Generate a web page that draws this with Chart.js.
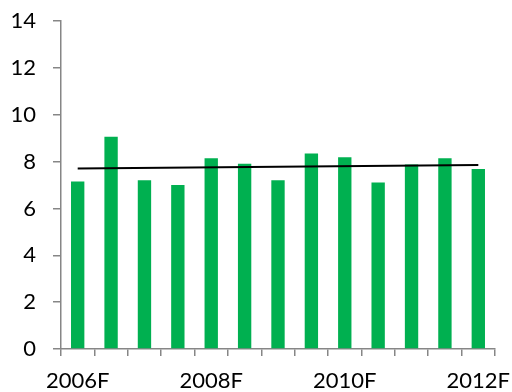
<!DOCTYPE html>
<html>
<head>
<meta charset="utf-8">
<script src="https://cdn.jsdelivr.net/npm/chart.js@4/dist/chart.umd.min.js"></script>
<style>
  html, body { margin: 0; padding: 0; background: #fff; }
  #wrap { width: 512px; height: 392px; }
</style>
</head>
<body>
<div id="wrap"><canvas id="myChart" width="512" height="392"></canvas></div>
<script>
// half-year periods, labelled every second year
let categories = ['2006F', '2006.5F', '2007F', '2007.5F', '2008F', '2008.5F', '2009F',
                  '2009.5F', '2010F', '2010.5F', '2011F', '2011.5F', '2012F'];
let values = [7.15, 9.06, 7.2, 7.0, 8.14, 7.91, 7.2, 8.34, 8.18, 7.11, 7.87, 8.14, 7.68];
// linear trend, start and end points only
let trend = [7.70, null, null, null, null, null, null, null, null, null, null, null, 7.85];
let yTicks = [0, 2, 4, 6, 8, 10, 12, 14];

var axisGrey = '#868686';
var font = { family: 'Lato, "Open Sans", sans-serif', size: 22 };

var ctx = document.getElementById('myChart').getContext('2d');
var chart = new Chart(ctx, {
    type: 'bar',
    data: {
        labels: categories,
        datasets: [{
            type: 'line',
            data: trend,
            borderColor: '#000000',
            borderWidth: 2,
            pointRadius: 0,
            spanGaps: true,
            fill: false,
            order: 0
        }, {
            data: values,
            backgroundColor: '#00B050',
            borderWidth: 0,
            barPercentage: 0.4,
            categoryPercentage: 1.0,
            order: 1
        }]
    },
    options: {
        responsive: false,
        animation: false,
        layout: { padding: { top: 21, right: 17, left: 0, bottom: 0 } },
        plugins: { legend: { display: false }, tooltip: { enabled: false } },
        scales: {
            x: {
                grid: { offset: true, drawOnChartArea: false, drawTicks: true, tickLength: 7, color: axisGrey, lineWidth: 1.5 },
                border: { color: axisGrey, width: 1.5 },
                ticks: {
                    autoSkip: false,
                    maxRotation: 0,
                    padding: 12,
                    color: '#000',
                    font: font,
                    callback: function(v, i) { return i % 4 === 0 ? categories[i] : ''; }
                },
                afterFit: function(s) {
                    s.height = 43;
                    s.paddingLeft = 0;
                    s.paddingRight = 0;
                }
            },
            y: {
                min: 0,
                max: 14,
                afterBuildTicks: function(s) { s.ticks = yTicks.map(function(v) { return { value: v }; }); },
                grid: { drawOnChartArea: false, drawTicks: true, tickLength: 8, color: axisGrey, lineWidth: 1.5 },
                border: { color: axisGrey, width: 1.5 },
                ticks: { padding: 17, color: '#000', font: font },
                afterFit: function(s) {
                    s.width = 61;
                    s.paddingTop = 0;
                    s.paddingBottom = 0;
                }
            }
        }
    }
});
</script>
</body>
</html>
